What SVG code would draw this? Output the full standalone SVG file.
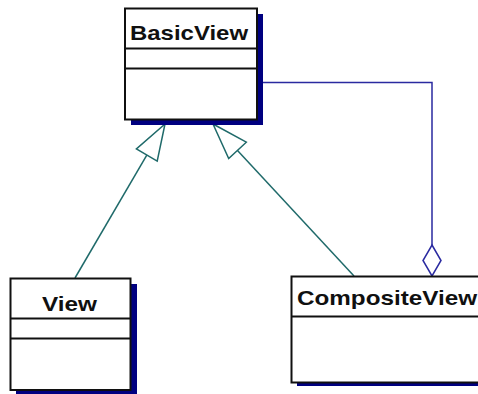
<svg xmlns="http://www.w3.org/2000/svg" width="478" height="394" viewBox="0 0 478 394">
<style>
.shadow{fill:#000080;stroke:none}
.box{fill:#ffffff;stroke:#101010;stroke-width:2}
.div{stroke:#101010;stroke-width:2}
.name{font-family:"Liberation Sans",Arial,sans-serif;font-weight:bold;font-size:21px;fill:#101010}
.gen{fill:none;stroke:#1f6a6a;stroke-width:1.5}
.genhead{fill:#ffffff;stroke:#1f6a6a;stroke-width:1.5}
.agg{fill:none;stroke:#2a2aa0;stroke-width:1.5}
.agghead{fill:#ffffff;stroke:#2a2aa0;stroke-width:1.5}
</style>
<rect width="478" height="394" fill="#ffffff"/>
<g id="connectors">
<line class="gen" x1="75" y1="278" x2="146.8" y2="155.1"/>
<polygon class="genhead" points="165,124 157.2,161.1 136.4,149"/>
<line class="gen" x1="354" y1="276" x2="237.5" y2="150.4"/>
<polygon class="genhead" points="213,124 246.3,142.2 228.7,158.6"/>
<polyline class="agg" points="257,82.5 432,82.5 432,245"/>
<polygon class="agghead" points="432,245 441,260.5 432,276 423,260.5"/>
</g>
<g id="BasicView">
<rect class="shadow" x="131" y="14" width="132" height="111"/>
<rect class="box" x="125" y="8.5" width="132" height="111"/>
<line class="div" x1="125" y1="48.5" x2="257" y2="48.5"/>
<line class="div" x1="125" y1="68.5" x2="257" y2="68.5"/>
<text class="name" x="130" y="40" textLength="118" lengthAdjust="spacingAndGlyphs">BasicView</text>
</g>
<g id="View">
<rect class="shadow" x="16" y="284" width="121" height="112"/>
<rect class="box" x="10.5" y="278.5" width="120" height="111.5"/>
<line class="div" x1="10.5" y1="318.5" x2="130.5" y2="318.5"/>
<line class="div" x1="10.5" y1="338.5" x2="130.5" y2="338.5"/>
<text class="name" x="42" y="311" textLength="55" lengthAdjust="spacingAndGlyphs">View</text>
</g>
<g id="CompositeView">
<rect class="shadow" x="297" y="282" width="190" height="104"/>
<rect class="box" x="291.5" y="276.5" width="190" height="106"/>
<line class="div" x1="291.5" y1="316.5" x2="481" y2="316.5"/>
<text class="name" x="297" y="305" textLength="180" lengthAdjust="spacingAndGlyphs">CompositeView</text>
</g>
</svg>
